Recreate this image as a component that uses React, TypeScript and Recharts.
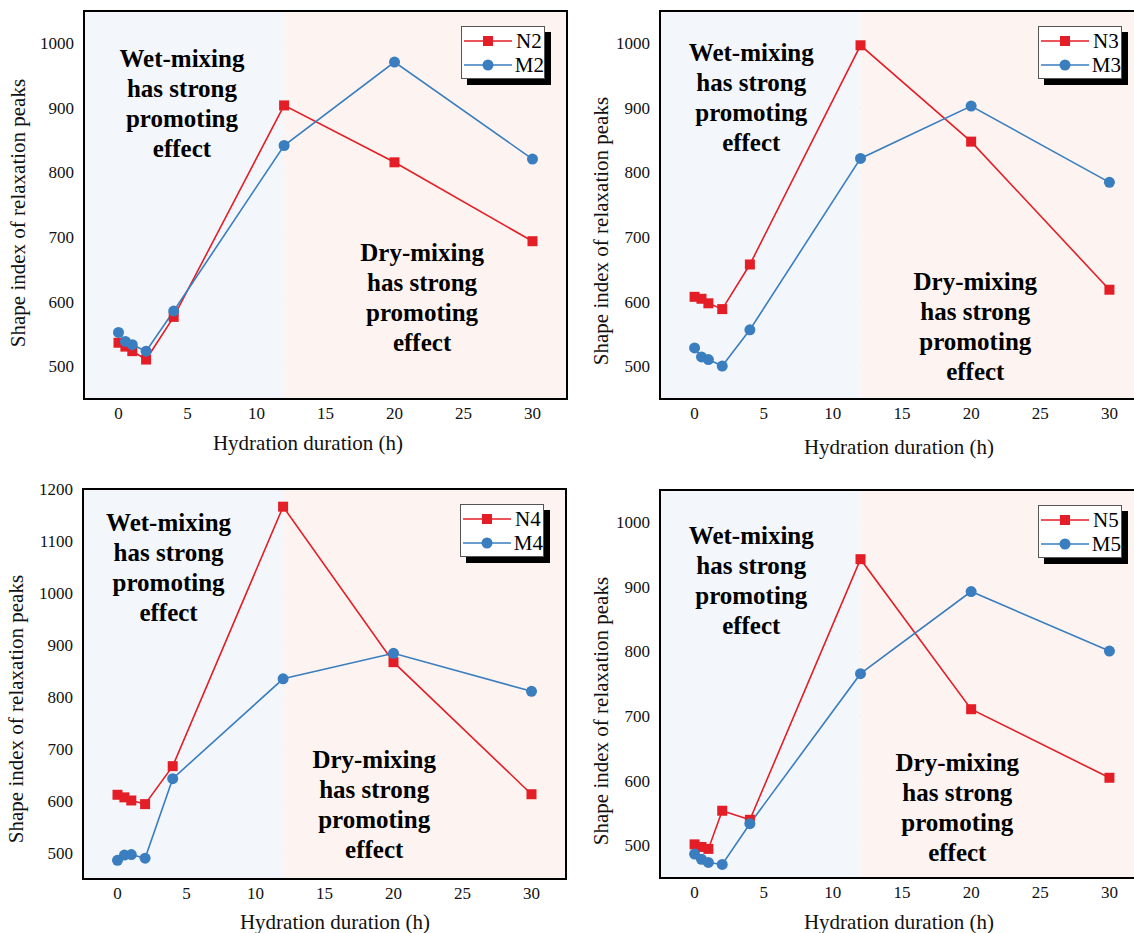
import {
  LineChart,
  Line,
  XAxis,
  YAxis,
  CartesianGrid,
  ReferenceArea,
  ReferenceDot,
  Label,
} from "recharts";

// hydration time points (h)
const hours = [0, 0.5, 1, 2, 4, 12, 20, 30];

// shape index values
const n2 = [537, 531, 524, 511, 577, 904, 816, 694];
const m2 = [553, 539, 534, 524, 586, 842, 971, 821];
const n3 = [608, 605, 598, 589, 658, 997, 848, 619];
const m3 = [529, 515, 511, 501, 557, 822, 903, 785];
const n4 = [612, 607, 601, 594, 667, 1166, 867, 613];
const m4 = [486, 496, 497, 490, 643, 835, 884, 811];
const n5 = [502, 498, 495, 554, 540, 943, 711, 605];
const m5 = [487, 479, 474, 471, 534, 766, 893, 801];

const xTicks = [0, 5, 10, 15, 20, 25, 30];
const yTicksA = [500, 600, 700, 800, 900, 1000];
const yTicksB = [500, 600, 700, 800, 900, 1000, 1100, 1200];

const wetText = ["Wet-mixing", "has strong", "promoting", "effect"];
const dryText = ["Dry-mixing", "has strong", "promoting", "effect"];

const RED = "#e41e26";
const BLUE = "#3a7ebf";
const FONT = "Liberation Serif, Times New Roman, serif";
const X_DOMAIN = [-2.5, 32.5];
const SPLIT = 12;

// label positions are page coordinates
const panels = [
  {
    redName: "N2", blueName: "M2", red: n2, blue: m2,
    yDomain: [450, 1050], yTicks: yTicksA,
    left: 0, top: 0, width: 570, height: 465, marginTop: 11, yAxisW: 84, xAxisH: 66,
    wet: [4.6, 977], dry: [22.0, 677],
    yLabel: [18, 213], xLabel: [308, 443],
  },
  {
    redName: "N3", blueName: "M3", red: n3, blue: m3,
    yDomain: [450, 1050], yTicks: yTicksA,
    left: 570, top: 0, width: 577, height: 465, marginTop: 11, yAxisW: 90, xAxisH: 66,
    wet: [4.1, 986], dry: [20.3, 631],
    yLabel: [601, 231], xLabel: [899, 447],
  },
  {
    redName: "N4", blueName: "M4", red: n4, blue: m4,
    yDomain: [450, 1200], yTicks: yTicksB,
    left: 0, top: 470, width: 569, height: 463, marginTop: 19, yAxisW: 83, xAxisH: 54,
    wet: [3.7, 1135], dry: [18.6, 679],
    yLabel: [16, 709], xLabel: [335, 922],
  },
  {
    redName: "N5", blueName: "M5", red: n5, blue: m5,
    yDomain: [450, 1050], yTicks: yTicksA,
    left: 570, top: 470, width: 577, height: 463, marginTop: 20, yAxisW: 90, xAxisH: 55,
    wet: [4.1, 980], dry: [19.0, 628],
    yLabel: [601, 711], xLabel: [899, 922],
  },
];

function SquareDot(props: any) {
  const { cx, cy, index } = props;
  if (cx == null || cy == null) return <g key={`s${index}`} />;
  return <rect key={`s${index}`} x={cx - 5} y={cy - 5} width={10} height={10} fill={RED} />;
}

function CircleDot(props: any) {
  const { cx, cy, index } = props;
  if (cx == null || cy == null) return <g key={`c${index}`} />;
  return <circle key={`c${index}`} cx={cx} cy={cy} r={5.5} fill={BLUE} />;
}

function XTick(props: any) {
  const { x, y, payload } = props;
  return (
    <text x={x} y={y + 14} textAnchor="middle" dominantBaseline="central" fontFamily={FONT} fontSize={17} fill="#111">
      {payload.value}
    </text>
  );
}

function YTick(props: any) {
  const { x, y, payload } = props;
  return (
    <text x={x + 4} y={y} textAnchor="end" dominantBaseline="central" fontFamily={FONT} fontSize={17} fill="#111">
      {payload.value}
    </text>
  );
}

function noteShape(lines: string[]) {
  return (props: any) => (
    <text
      x={props.cx}
      y={props.cy}
      textAnchor="middle"
      fontFamily={FONT}
      fontWeight="bold"
      fontSize={25}
      fill="#000"
    >
      {lines.map((t, i) => (
        <tspan key={i} x={props.cx} y={props.cy + i * 30} dominantBaseline="central">
          {t}
        </tspan>
      ))}
    </text>
  );
}

function LegendBox({ redName, blueName, left, top }: any) {
  const row = (color: string, square: boolean, name: string) => (
    <div style={{ display: "flex", alignItems: "center", height: 24 }}>
      <svg width={52} height={20} style={{ display: "block" }}>
        <line x1={2} y1={10} x2={50} y2={10} stroke={color} strokeWidth={1.6} />
        {square ? (
          <rect x={21} y={5} width={10} height={10} fill={color} />
        ) : (
          <circle cx={26} cy={10} r={5.5} fill={color} />
        )}
      </svg>
      <span style={{ fontFamily: FONT, fontSize: 21, marginLeft: 2, lineHeight: "20px" }}>{name}</span>
    </div>
  );
  return (
    <div
      style={{
        position: "absolute",
        left,
        top,
        width: 84,
        height: 53,
        boxSizing: "border-box",
        background: "#fff",
        border: "1px solid #555",
        boxShadow: "6px 6px 0 #000",
        paddingTop: 2,
      }}
    >
      {row(RED, true, redName)}
      {row(BLUE, false, blueName)}
    </div>
  );
}

function Panel({ p }: any) {
  const data = hours.map((h, i) => ({ h, red: p.red[i], blue: p.blue[i] }));
  const plotRight = p.width - 3;
  const xl = [p.xLabel[0] - p.left, p.xLabel[1] - p.top];
  const yl = [p.yLabel[0] - p.left, p.yLabel[1] - p.top];
  return (
    <div style={{ position: "absolute", left: p.left, top: p.top, width: p.width, height: p.height, fontFamily: FONT }}>
      <LineChart
        width={p.width}
        height={p.height}
        data={data}
        margin={{ top: p.marginTop, right: 3, left: 0, bottom: 0 }}
      >
        <ReferenceArea x1={X_DOMAIN[0]} x2={SPLIT} y1={p.yDomain[0]} y2={p.yDomain[1]} fill="#f3f7fc" fillOpacity={1} stroke="none" />
        <ReferenceArea x1={SPLIT} x2={X_DOMAIN[1]} y1={p.yDomain[0]} y2={p.yDomain[1]} fill="#fdf4f1" fillOpacity={1} stroke="none" />
        <CartesianGrid vertical={false} stroke="#c4c4c4" strokeDasharray="3 3" />
        <XAxis
          dataKey="h"
          type="number"
          domain={X_DOMAIN}
          ticks={xTicks}
          allowDataOverflow
          axisLine={false}
          tickLine={false}
          tickSize={0}
          tickMargin={0}
          height={p.xAxisH}
          tick={XTick}
        >
          <Label
            content={() => (
              <text x={xl[0]} y={xl[1]} textAnchor="middle" dominantBaseline="central" fontFamily={FONT} fontSize={21} fill="#111">
                Hydration duration (h)
              </text>
            )}
          />
        </XAxis>
        <YAxis
          type="number"
          domain={p.yDomain}
          ticks={p.yTicks}
          allowDataOverflow
          axisLine={false}
          tickLine={false}
          tickSize={0}
          tickMargin={0}
          width={p.yAxisW}
          tick={(tp: any) => <YTick {...tp} x={tp.x - 14} />}
        >
          <Label
            content={() => (
              <text
                x={yl[0]}
                y={yl[1]}
                textAnchor="middle"
                dominantBaseline="central"
                fontFamily={FONT}
                fontSize={21}
                fill="#111"
                transform={`rotate(-90 ${yl[0]} ${yl[1]})`}
              >
                Shape index of relaxation peaks
              </text>
            )}
          />
        </YAxis>
        <ReferenceDot x={p.wet[0]} y={p.wet[1]} r={0} shape={noteShape(wetText)} />
        <ReferenceDot x={p.dry[0]} y={p.dry[1]} r={0} shape={noteShape(dryText)} />
        <Line dataKey="red" stroke={RED} strokeWidth={1.6} dot={SquareDot} activeDot={false} isAnimationActive={false} />
        <Line dataKey="blue" stroke={BLUE} strokeWidth={1.6} dot={CircleDot} activeDot={false} isAnimationActive={false} />
        <ReferenceArea x1={X_DOMAIN[0]} x2={X_DOMAIN[1]} y1={p.yDomain[0]} y2={p.yDomain[1]} fill="none" stroke="#000" strokeWidth={2} />
      </LineChart>
      <LegendBox redName={p.redName} blueName={p.blueName} left={plotRight - 22 - 84} top={p.marginTop + 15} />
    </div>
  );
}

export default function App() {
  return (
    <div style={{ position: "absolute", left: 0, top: 0, width: 1134, height: 933, overflow: "hidden", background: "#fff" }}>
      {panels.map((p, i) => (
        <Panel key={i} p={p} />
      ))}
    </div>
  );
}
